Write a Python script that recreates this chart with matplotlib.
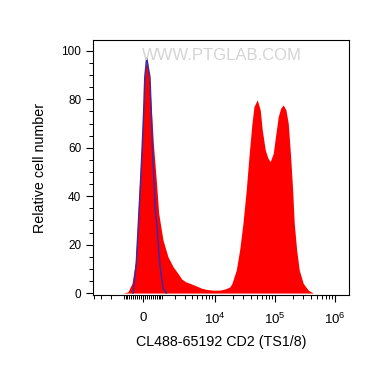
import numpy as np
import matplotlib
matplotlib.use('Agg')
import matplotlib.pyplot as plt

plt.rcParams['font.family'] = ['Liberation Sans', 'DejaVu Sans']
plt.rcParams['mathtext.default'] = 'regular'

# stained sample (red filled histogram), x in fluorescence units
red_x = [-1071, -770, -551, -380, -279, -161, -63, 10, 63, 180, 309, 421, 525, 675,
         810, 1071, 1408, 1808, 2262, 2658, 3176, 3745, 4893, 5913, 7253, 9250,
         12140, 15280, 17840, 19260, 22730, 25890, 29390, 33370, 37010, 41530,
         44850, 50900, 57120, 61670, 69200, 76760, 83850, 94070, 104300, 114000,
         124900, 138000, 153100, 167300, 183500, 198100, 210600, 231000, 255200,
         297500, 360500, 436600]
red_y = [0, 0.5, 4, 12.3, 26, 46.7, 61, 75, 89, 98, 89, 75, 61, 46.7,
         33, 21.9, 15, 10.9, 8.1, 5.8, 4.6, 4.0, 2.9, 2.0, 1.5, 1.2,
         1.2, 1.8, 2.6, 4, 9.5, 17.8, 28.8, 42.6, 56.3, 70.1,
         77, 79.8, 75.6, 67.4, 59.1, 55.7, 54.3, 57.7, 66, 72.9,
         76.3, 77.7, 75.6, 70.1, 56.3, 42.6, 28.8, 17.8, 9.5,
         4, 1.2, 0]

# isotype control (blue line)
blue_x = [-498, -329, -195, -112, -34, 34, 88, 180, 344, 405, 462, 551, 631, 731,
          869, 1071, 1289]
blue_y = [0, 12.3, 33.5, 46.7, 61, 75, 89, 97, 89, 75, 61, 46.7, 33.5, 26,
          12.3, 2, 0]

C = 1267.0
def fwd(x):
    return np.arcsinh(np.asarray(x) / C) / np.log(10)
def inv(u):
    return C * np.sinh(np.asarray(u) * np.log(10))

fig = plt.figure(figsize=(3.7, 3.65), dpi=100)
ax = fig.add_axes([0.2514, 0.1918, 0.6916, 0.6986])
ax.set_xscale('function', functions=(fwd, inv))

ax.fill_between(red_x, red_y, 0, color='#ff0000', lw=0, zorder=2)
ax.plot(blue_x, blue_y, color='#3a2aa8', lw=1.1, zorder=3)

ax.set_xlim(-4220, 1.717e6)
ax.set_ylim(-0.8, 104.5)

ax.set_xticks([0, 1e4, 1e5, 1e6])
ax.set_xticklabels(['0', '$10^4$', '$10^5$', '$10^6$'])
minors = []
for k in [100, 1000]:
    for m in range(1, 10):
        v = m * k
        if k == 1000 and m > 4:
            minors.append(v)
        else:
            minors += [v, -v]
for k in [1e4, 1e5]:
    for m in range(2, 10):
        minors.append(m * k)
ax.set_xticks([v for v in minors if -4220 < v < 1.7e6], minor=True)

ax.set_yticks([0, 20, 40, 60, 80, 100])
ax.set_yticks(np.arange(0, 105, 5), minor=True)

ax.tick_params(which='major', length=5, width=0.8, labelsize=8.5, direction='out')
ax.tick_params(which='minor', length=3, width=0.7, direction='out')
ax.tick_params(axis='x', which='major', labelsize=9.5, pad=7)
for s in ax.spines.values():
    s.set_linewidth(0.8)

ax.set_ylabel('Relative cell number', fontsize=10.3, labelpad=10)
ax.set_xlabel('CL488-65192 CD2 (TS1/8)', fontsize=10.3, labelpad=6)

ax.text(0.504, 0.94, 'WWW.PTGLAB.COM', transform=ax.transAxes, ha='center', va='center',
        fontsize=12, color='#d4d4d4', zorder=4)

fig.savefig('out.png', dpi=100)
